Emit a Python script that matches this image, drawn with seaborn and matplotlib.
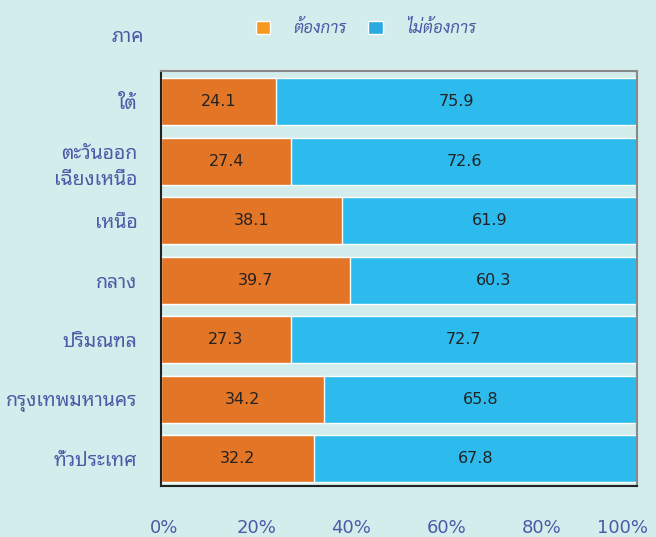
import pandas as pd
import numpy as np
import seaborn as sns
import matplotlib.pyplot as plt
import matplotlib.transforms as mtrans
from matplotlib.patches import Patch

regions = ['ใต้', 'ตะวันออก\nเฉียงเหนือ', 'เหนือ', 'กลาง', 'ปริมณฑล', 'กรุงเทพมหานคร', 'ทั่วประเทศ']
want = [24.1, 27.4, 38.1, 39.7, 27.3, 34.2, 32.2]
not_want = [75.9, 72.6, 61.9, 60.3, 72.7, 65.8, 67.8]
xticks = [0, 20, 40, 60, 80, 100]

df = pd.DataFrame({'region': regions, 'want': want, 'not_want': not_want})
df['total'] = df['want'] + df['not_want']

sns.set_style('white')
plt.rcParams['font.family'] = ['DejaVu Sans', 'Noto Sans Thai Looped', 'Sarabun', 'Noto Sans Thai']

bg = '#D3ECEC'
txt = '#4B5BA6'
fig = plt.figure(figsize=(6.56, 5.37), dpi=100, facecolor=bg)
ax = fig.add_axes([0.2454, 0.095, 0.7256, 0.7728])
ax.set_facecolor(bg)

sns.barplot(data=df, x='total', y='region', color='#2CBBEC', orient='h', width=0.79,
            saturation=1, ax=ax)
sns.barplot(data=df, x='want', y='region', color='#E37527', orient='h', width=0.79,
            saturation=1, ax=ax)

for i, (w, n) in enumerate(zip(want, not_want)):
    ax.text(w / 2, i, f'{w:.1f}', ha='center', va='center', fontsize=11.5, color='#222222')
    ax.text(w + n / 2, i, f'{n:.1f}', ha='center', va='center', fontsize=11.5, color='#222222')

ax.set_xlim(0, 100)
ax.set_ylim(6.46, -0.513)
ax.set_xticks(xticks)
ax.set_xticklabels([f'{t}%' for t in xticks], color=txt, fontsize=13)
ax.tick_params(axis='x', direction='out', length=3.6, width=1, color='#333333', pad=20)
ax.tick_params(axis='y', length=0, pad=17, labelsize=14, labelcolor=txt)
for lab in ax.get_yticklabels():
    lab.set_horizontalalignment('right')
    lab.set_linespacing(1.45)
ax.set_xlabel('')
ax.set_ylabel('')

# shift first / last tick labels like the original
xl = ax.get_xticklabels()
xl[0].set_transform(xl[0].get_transform() + mtrans.ScaledTranslation(3 / 100, 0, fig.dpi_scale_trans))
xl[-1].set_transform(xl[-1].get_transform() + mtrans.ScaledTranslation(-14 / 100, 0, fig.dpi_scale_trans))

ax.spines['left'].set_color('#222222')
ax.spines['bottom'].set_color('#222222')
ax.spines['top'].set_color('#8A8A8A')
ax.spines['right'].set_color('#8A8A8A')
for s in ax.spines.values():
    s.set_linewidth(1.5)

fig.text(128 / 656, 1 - 36 / 537, 'ภาค', color=txt, fontsize=14, ha='center', va='center')

handles = [Patch(facecolor='#F7991F', label='ต้องการ'), Patch(facecolor='#29ABE2', label='ไม่ต้องการ')]
leg = fig.legend(handles=handles, loc='center', bbox_to_anchor=(366 / 656, 1 - 29 / 537), ncol=2,
                 frameon=False, fontsize=12, handlelength=0.85, handleheight=0.85,
                 columnspacing=1.3, handletextpad=1.4)
for t in leg.get_texts():
    t.set_color(txt)
    t.set_family(['Sarabun', 'Noto Sans Thai Looped'])
    t.set_fontstyle('italic')

fig.savefig('out.png', dpi=100, facecolor=bg)
